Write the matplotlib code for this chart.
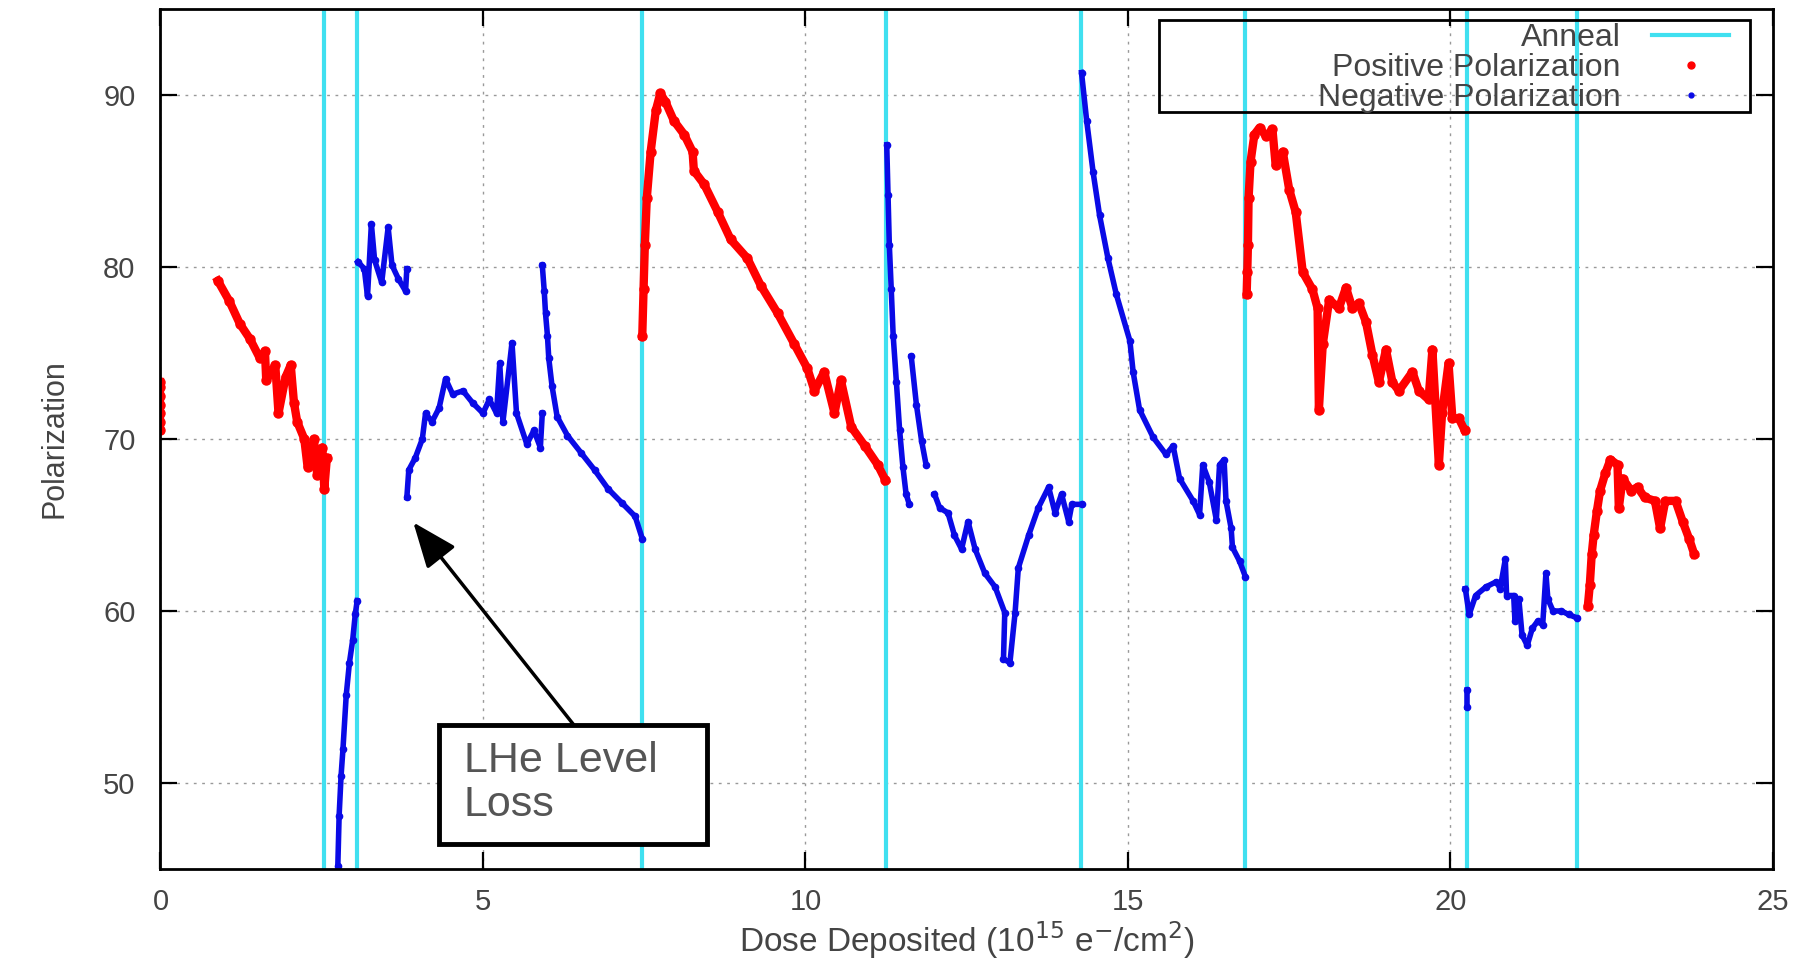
import matplotlib
matplotlib.use('Agg')
import matplotlib.pyplot as plt
from matplotlib.lines import Line2D
from matplotlib.patches import Rectangle

plt.rcParams['font.family'] = ['Liberation Sans', 'DejaVu Sans']

# anneal positions (dose, 1e15 e-/cm2)
anneal_x = [2.54, 3.04, 7.47, 11.25, 14.27, 16.82, 20.25, 21.96]

# positive polarization runs
pos_x1 = [0, 0, 0, 0, 0, 0, 0]
pos_y1 = [70.5, 71.0, 71.5, 72.0, 72.5, 73.0, 73.3]

pos_x2 = [0.89, 1.07, 1.23, 1.39, 1.54, 1.62, 1.64, 1.78, 1.83, 1.94, 2.02, 2.07,
          2.12, 2.23, 2.28, 2.38, 2.43, 2.51, 2.54, 2.58]
pos_y2 = [79.2, 78.0, 76.7, 75.8, 74.7, 75.1, 73.4, 74.3, 71.5, 73.6, 74.3, 72.1,
          71.0, 70.0, 68.4, 70.0, 67.9, 69.5, 67.1, 68.9]

pos_x3 = [7.47, 7.49, 7.51, 7.54, 7.60, 7.68, 7.75, 7.83, 7.96, 8.12, 8.25, 8.27,
          8.43, 8.64, 8.84, 9.10, 9.31, 9.57, 9.83, 10.03, 10.14, 10.29, 10.45,
          10.55, 10.71, 10.92, 11.12, 11.24]
pos_y3 = [76.0, 78.7, 81.3, 84.0, 86.7, 89.1, 90.1, 89.6, 88.5, 87.7, 86.7, 85.6,
          84.8, 83.2, 81.6, 80.5, 78.9, 77.3, 75.5, 74.1, 72.8, 73.9, 71.5,
          73.4, 70.7, 69.6, 68.5, 67.6]

pos_x4 = [16.84, 16.85, 16.86, 16.87, 16.90, 16.96, 17.04, 17.14, 17.24, 17.29,
          17.40, 17.50, 17.60, 17.71, 17.86, 17.94, 17.96, 18.02, 18.12, 18.27,
          18.38, 18.48, 18.58, 18.69, 18.79, 18.89, 19.00, 19.10, 19.20, 19.41,
          19.51, 19.66, 19.72, 19.82, 19.87, 19.97, 20.03, 20.13, 20.22]
pos_y4 = [78.4, 79.7, 81.3, 84.0, 86.1, 87.7, 88.1, 87.6, 88.0, 85.9,
          86.7, 84.5, 83.2, 79.7, 78.7, 77.6, 71.7, 75.5, 78.1, 77.6,
          78.8, 77.6, 77.9, 76.8, 74.9, 73.3, 75.2, 73.3, 72.8, 73.9,
          72.8, 72.3, 75.2, 68.5, 71.5, 74.4, 71.2, 71.2, 70.5]

pos_x5 = [22.13, 22.16, 22.19, 22.22, 22.27, 22.32, 22.40, 22.48, 22.59, 22.61,
          22.67, 22.80, 22.90, 23.01, 23.17, 23.25, 23.33, 23.49, 23.60, 23.70, 23.78]
pos_y5 = [60.3, 61.5, 63.3, 64.4, 65.8, 67.0, 68.0, 68.8, 68.5, 66.0,
          67.7, 67.0, 67.2, 66.6, 66.4, 64.8, 66.4, 66.4, 65.2, 64.2, 63.3]

# negative polarization runs
neg_x1 = [2.75, 2.77, 2.80, 2.83, 2.88, 2.93, 2.98, 3.02, 3.05]
neg_y1 = [45.2, 48.1, 50.4, 52.0, 55.1, 57.0, 58.3, 59.8, 60.6]

neg_x2 = [3.06, 3.16, 3.21, 3.27, 3.32, 3.43, 3.53, 3.59, 3.69, 3.80, 3.82]
neg_y2 = [80.3, 79.9, 78.3, 82.5, 80.4, 79.1, 82.3, 80.1, 79.3, 78.6, 79.9]

neg_x3 = [3.82, 3.85, 3.95, 4.06, 4.11, 4.21, 4.32, 4.42, 4.53, 4.69, 4.84, 5.00,
          5.10, 5.21, 5.26, 5.31, 5.45, 5.52, 5.68, 5.79, 5.89, 5.92]
neg_y3 = [66.6, 68.2, 68.9, 70.0, 71.5, 71.0, 71.8, 73.5, 72.6, 72.8, 72.1, 71.5,
          72.3, 71.5, 74.4, 71.0, 75.6, 71.5, 69.7, 70.5, 69.5, 71.5]

neg_x4 = [5.92, 5.95, 5.97, 6.00, 6.02, 6.07, 6.15, 6.31, 6.52, 6.73, 6.94, 7.15,
          7.36, 7.47]
neg_y4 = [80.1, 78.6, 77.3, 76.0, 74.7, 73.1, 71.3, 70.2, 69.2, 68.2, 67.1, 66.3,
          65.5, 64.2]

neg_x5 = [11.26, 11.28, 11.30, 11.33, 11.36, 11.41, 11.46, 11.51, 11.56, 11.61]
neg_y5 = [87.1, 84.2, 81.3, 78.7, 76.0, 73.3, 70.5, 68.4, 66.8, 66.2]

neg_x6 = [11.64, 11.72, 11.80, 11.87]
neg_y6 = [74.8, 72.0, 69.9, 68.5]

neg_x7 = [12.00, 12.08, 12.21, 12.31, 12.42, 12.52, 12.63, 12.78, 12.94, 13.09,
          13.07, 13.17, 13.25, 13.30, 13.46, 13.61, 13.77, 13.87, 13.97, 14.08,
          14.13, 14.28]
neg_y7 = [66.8, 66.0, 65.7, 64.4, 63.6, 65.2, 63.6, 62.2, 61.4, 59.9,
          57.2, 57.0, 59.9, 62.5, 64.4, 66.0, 67.2, 65.7, 66.8, 65.2,
          66.2, 66.2]

neg_x8 = [14.28, 14.36, 14.46, 14.56, 14.69, 14.82, 15.03, 15.08, 15.18, 15.39,
          15.59, 15.70, 15.80, 16.01, 16.11, 16.16, 16.26, 16.37, 16.42, 16.49,
          16.52, 16.60, 16.62, 16.73, 16.82]
neg_y8 = [91.3, 88.5, 85.5, 83.0, 80.5, 78.4, 75.7, 73.9, 71.7, 70.1,
          69.1, 69.6, 67.7, 66.4, 65.6, 68.5, 67.5, 65.3, 68.5, 68.8,
          66.4, 64.8, 63.7, 62.9, 62.0]

neg_x9 = [20.25, 20.25]
neg_y9 = [55.4, 54.4]

neg_x10 = [20.23, 20.29, 20.39, 20.55, 20.71, 20.77, 20.85, 20.87, 20.98, 21.00,
           21.06, 21.11, 21.19, 21.27, 21.35, 21.43, 21.48, 21.51, 21.59, 21.72,
           21.83, 21.96]
neg_y10 = [61.3, 59.8, 60.9, 61.4, 61.7, 61.3, 63.0, 60.9, 60.9, 59.4,
           60.7, 58.6, 58.0, 59.0, 59.4, 59.2, 62.2, 60.7, 60.0, 60.0,
           59.8, 59.6]

pos_runs = [(pos_x1, pos_y1), (pos_x2, pos_y2), (pos_x3, pos_y3),
            (pos_x4, pos_y4), (pos_x5, pos_y5)]
neg_runs = [(neg_x1, neg_y1), (neg_x2, neg_y2), (neg_x3, neg_y3), (neg_x4, neg_y4),
            (neg_x5, neg_y5), (neg_x6, neg_y6), (neg_x7, neg_y7), (neg_x8, neg_y8),
            (neg_x9, neg_y9), (neg_x10, neg_y10)]

txt_col = '#444444'
cyan = '#40e0f0'
red = '#ff0000'
blue = '#0a0ae6'

fig = plt.figure(figsize=(18.11, 9.63), dpi=100)
ax = fig.add_axes([0.0886, 0.0976, 0.8904, 0.8931])

for xa in anneal_x:
    ax.axvline(xa, color=cyan, lw=3, zorder=2)

for xs, ys in pos_runs:
    ax.plot(xs, ys, color=red, lw=6, marker='o', ms=6.5, zorder=4)
for xs, ys in neg_runs:
    ax.plot(xs, ys, color=blue, lw=4, marker='o', ms=4.5, zorder=4)

ax.set_xlim(0, 25)
ax.set_ylim(45, 95)
ax.set_xticks([0, 5, 10, 15, 20, 25])
ax.set_yticks([50, 60, 70, 80, 90])
ax.grid(True, color='#999999', ls=(0, (2, 4)), lw=1, zorder=1)
ax.tick_params(direction='in', length=12, width=1.6, top=True, right=True,
               labelsize=21, labelcolor=txt_col, colors='black')
ax.tick_params(axis='x', pad=14)
ax.tick_params(axis='y', pad=18)
for sp in ax.spines.values():
    sp.set_linewidth(2)
    sp.set_zorder(5)

ax.set_xlabel('Dose Deposited (10$^{15}$ e$^{-}$/cm$^{2}$)', fontsize=24,
              color=txt_col, labelpad=2)
ax.set_ylabel('Polarization', fontsize=22, color=txt_col, labelpad=24)

# legend: gnuplot style, text then sample, transparent, wide frame
handles = [Line2D([], [], color=cyan, lw=3),
           Line2D([], [], color=red, ls='none', marker='o', ms=5),
           Line2D([], [], color=blue, ls='none', marker='o', ms=3.5)]
labels = ['Anneal', 'Positive Polarization', 'Negative Polarization']
leg = ax.legend(handles, labels, loc='upper right', bbox_to_anchor=(0.9728, 0.984),
                borderaxespad=0, markerfirst=False, fontsize=23, handlelength=2.4,
                labelspacing=0, borderpad=0, handletextpad=1.0,
                frameon=False)
for t in leg.get_texts():
    t.set_color(txt_col)
leg.set_zorder(6)
ax.add_patch(Rectangle((0.619, 0.880), 0.9857 - 0.619, 0.9866 - 0.880,
                       transform=ax.transAxes, facecolor='none',
                       edgecolor='black', lw=2, zorder=6))

# annotation box with arrow
box = Rectangle((4.32, 46.43), 8.47 - 4.32, 53.37 - 46.43, facecolor='white',
                edgecolor='black', lw=3.5, zorder=7)
ax.add_patch(box)
ax.text(4.70, 50.0, 'LHe Level\nLoss', fontsize=31, color='#555555',
        ha='left', va='center', linespacing=1.12, zorder=8)
ax.annotate('', xy=(3.92, 65.15), xytext=(6.41, 53.37),
            arrowprops=dict(arrowstyle='-|>,head_length=0.7,head_width=0.28',
                            mutation_scale=40, lw=2.5, color='black',
                            shrinkA=0, shrinkB=0), zorder=7)

fig.savefig('out.png', dpi=100)
